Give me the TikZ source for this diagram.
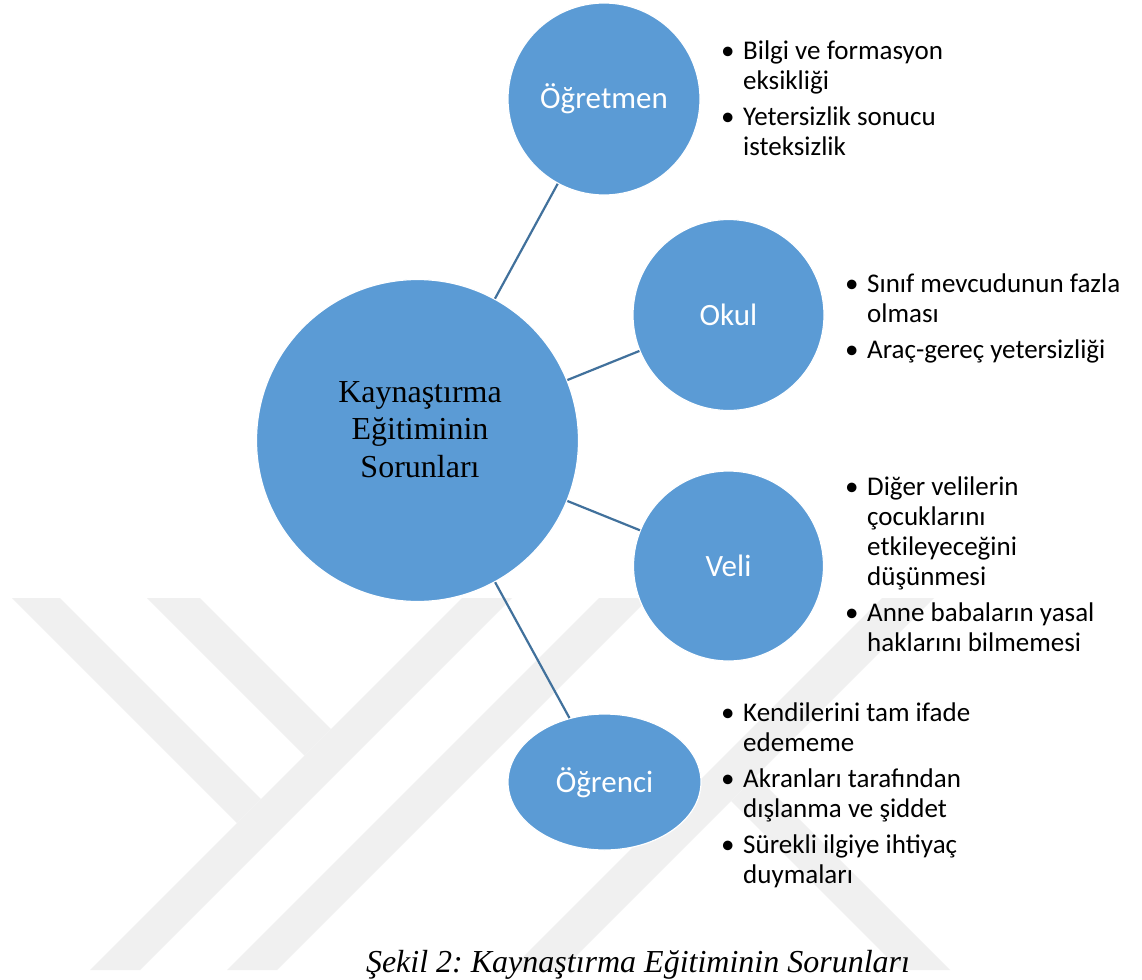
\documentclass[tikz,border=0pt]{standalone}
\usepackage{fontspec}
\setmainfont{Liberation Serif}
\newfontfamily\calfont{Carlito}
\usetikzlibrary{shapes.geometric}
\definecolor{nodeblue}{HTML}{5B9BD5}
\definecolor{linkblue}{HTML}{41719C}
\definecolor{wmgray}{RGB}{240,240,240}
\newcommand{\bul}{\makebox[22pt][l]{•}}
\frenchspacing
\begin{document}
\begin{tikzpicture}[x=1pt,y=-1pt,
  bubble/.style={fill=nodeblue, draw=white, line width=1.2pt, inner sep=0pt, text=white,
    font=\calfont\fontsize{31}{36}\selectfont, text height=20pt, text depth=0pt},
  link/.style={draw=linkblue, line width=2.2pt},
  wm/.style={fill=wmgray, draw=none},
  listtext/.style={anchor=base west, inner sep=0pt, font=\calfont\fontsize{27}{30}\selectfont, text=black},
  hubtext/.style={anchor=base, inner sep=0pt, font=\fontsize{32}{37.5}\selectfont, text=black},
  captext/.style={anchor=base, inner sep=0pt, font=\itshape\fontsize{32}{38}\selectfont, text=black},
]
\useasboundingbox (0,0) rectangle (1142,979);
\fill[white] (0,0) rectangle (1142,979);
% watermark
\fill[wm] (12,598) -- (60,598) -- (261,799) -- (237,823) -- cycle;
\fill[wm] (147,598) -- (200,598) -- (331,729) -- (304.5,755.5) -- cycle;
\fill[wm] (90,970) -- (140,970) -- (512,598) -- (462,598) -- cycle;
\fill[wm] (227,970) -- (277,970) -- (649,598) -- (599,598) -- cycle;
\fill[wm] (510,970) -- (562,970) -- (934,598) -- (882,598) -- cycle;
\fill[wm] (731,801) -- (756,776) -- (950,970) -- (900,970) -- cycle;
% nodes
\node[bubble, circle, minimum size=322pt] (hub) at (417.5,440.5) {};
\node[bubble, circle, minimum size=192pt] (ogretmen) at (604,99) {Öğretmen};
\node[bubble, circle, minimum size=191pt] (okul) at (728.5,315) {Okul};
\node[bubble, circle, minimum size=190pt] (veli) at (728.5,566) {Veli};
\node[bubble, ellipse, minimum width=193pt, minimum height=136pt] (ogrenci) at (604.5,782) {Öğrenci};
\node[hubtext] (hubtxt) at (420,402) {\begin{tabular}[t]{@{}c@{}}Kaynaştırma\\Eğitiminin\\Sorunları\end{tabular}};
% connectors
\draw[link] (hub) -- (ogretmen);
\draw[link] (hub) -- (okul);
\draw[link] (hub) -- (veli);
\draw[link] (hub) -- (ogrenci);
% lists
\node[listtext] (listogretmen) at (721,60) {\begin{tabular}[t]{@{}l@{}l@{}}\bul&Bilgi ve formasyon\\&eksikliği\\[6pt]\bul&Yetersizlik sonucu\\&isteksizlik\end{tabular}};
\node[listtext] (listokul) at (845,292) {\begin{tabular}[t]{@{}l@{}l@{}}\bul&Sınıf mevcudunun fazla\\&olması\\[6pt]\bul&Araç-gereç yetersizliği\end{tabular}};
\node[listtext] (listveli) at (845,495) {\begin{tabular}[t]{@{}l@{}l@{}}\bul&Diğer velilerin\\&çocuklarını\\&etkileyeceğini\\&düşünmesi\\[6pt]\bul&Anne babaların yasal\\&haklarını bilmemesi\end{tabular}};
\node[listtext] (listogrenci) at (721,721) {\begin{tabular}[t]{@{}l@{}l@{}}\bul&Kendilerini tam ifade\\&edememe\\[6pt]\bul&Akranları tarafından\\&dışlanma ve şiddet\\[6pt]\bul&Sürekli ilgiye ihtiyaç\\&duymaları\end{tabular}};
% caption
\node[captext] (caption) at (638,972) {Şekil 2: Kaynaştırma Eğitiminin Sorunları};
\end{tikzpicture}
\end{document}
